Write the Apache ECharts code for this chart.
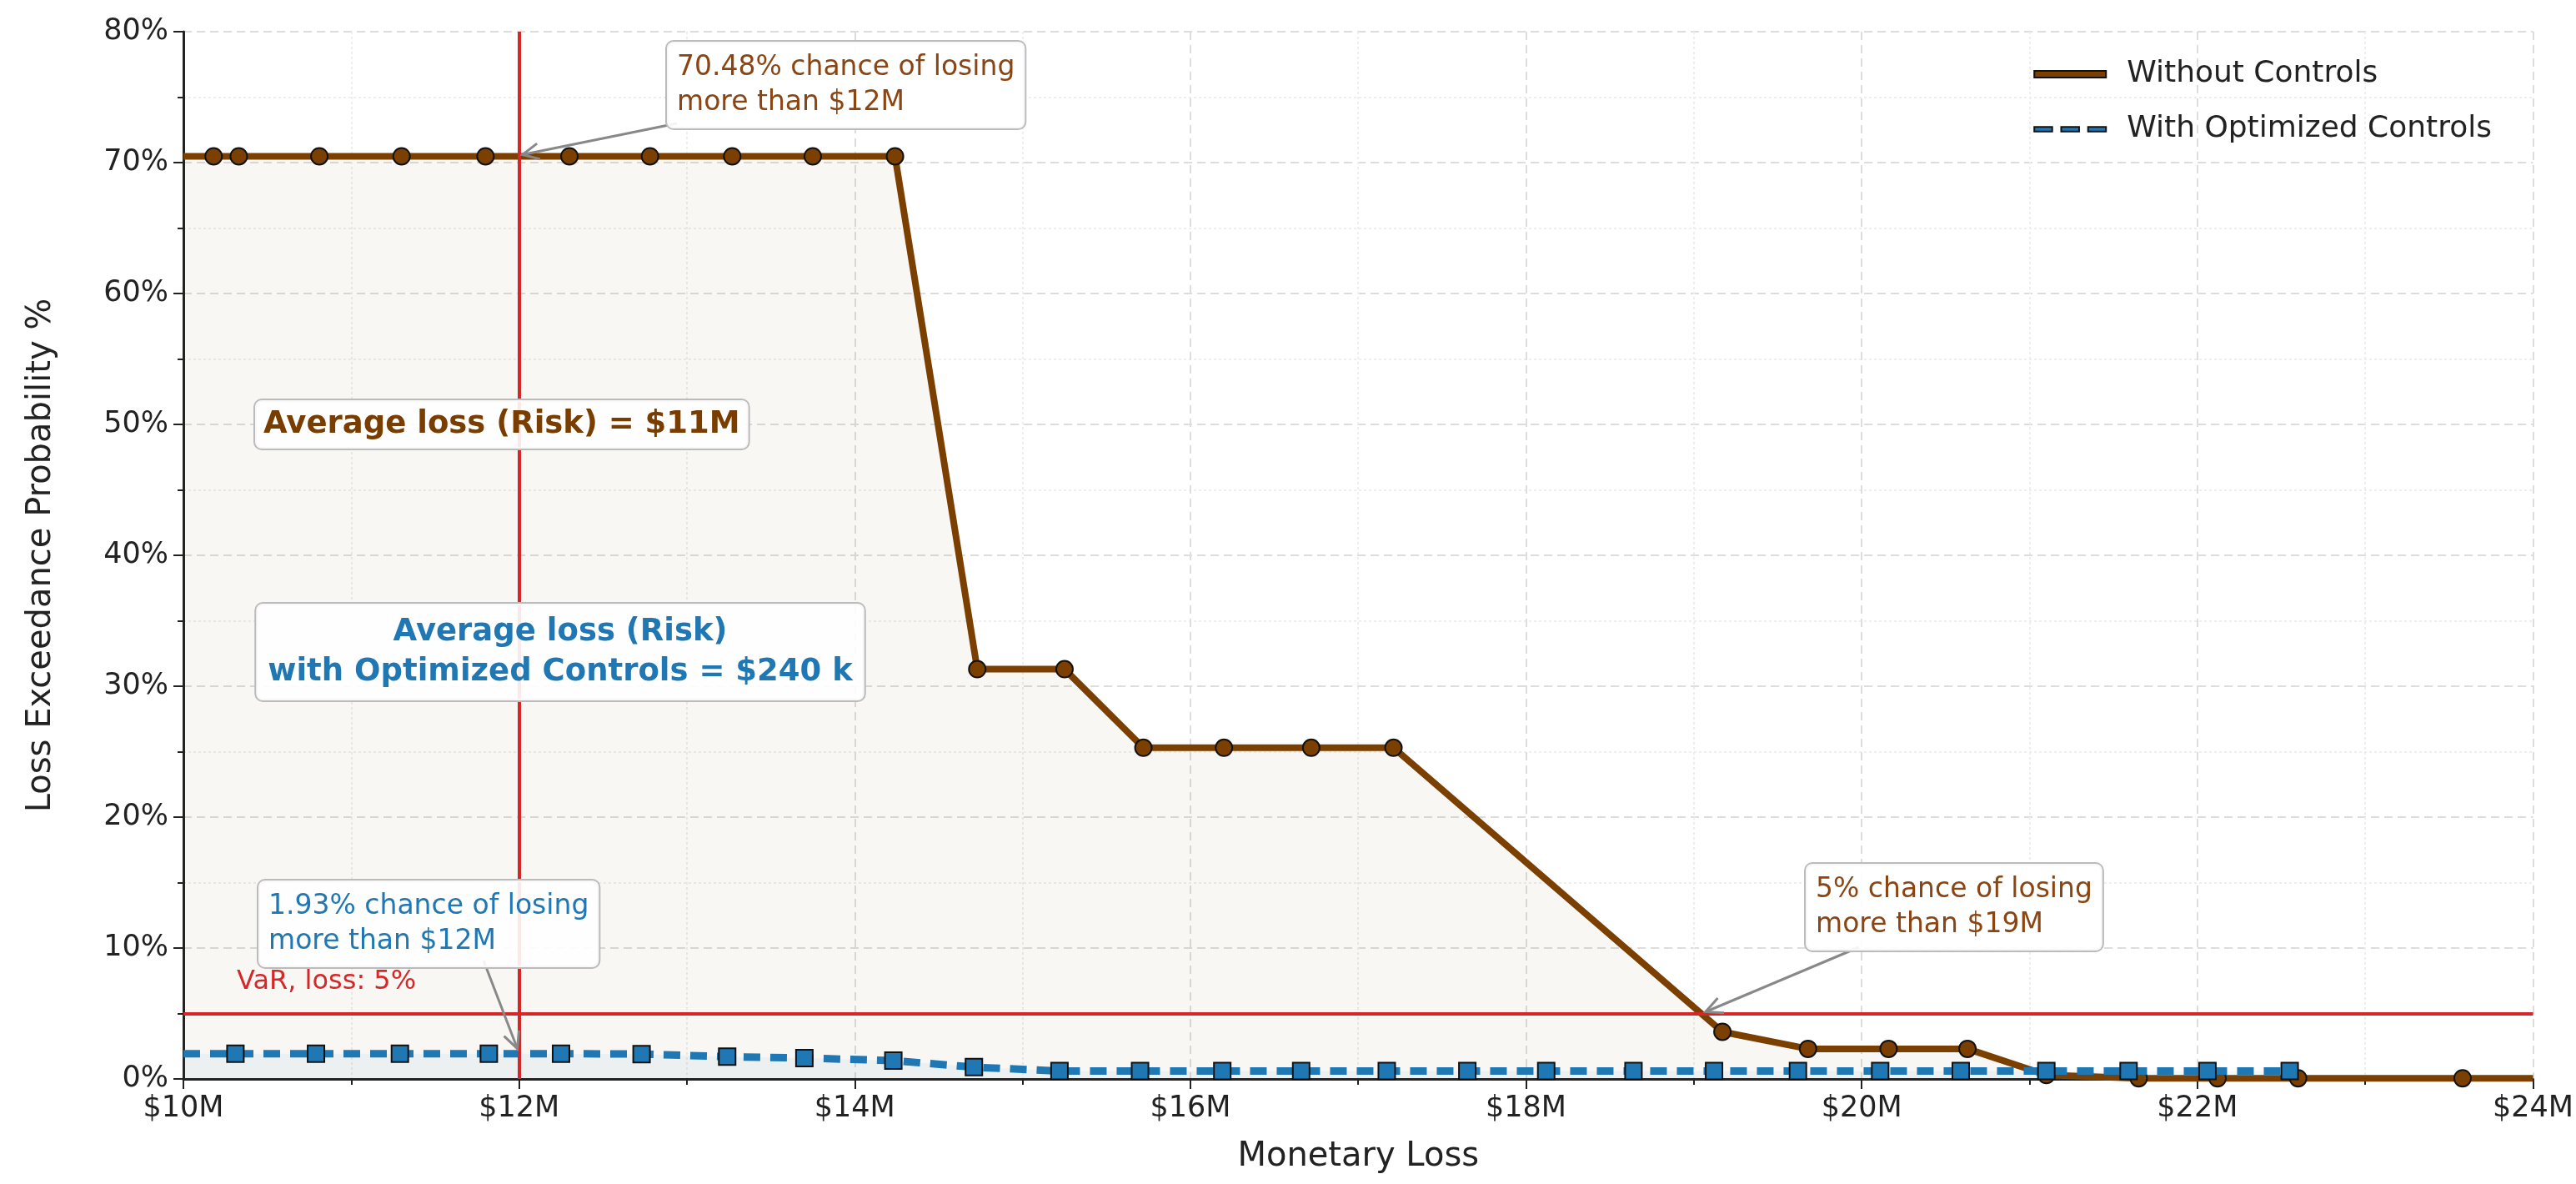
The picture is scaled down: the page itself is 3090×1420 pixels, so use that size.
<!DOCTYPE html>
<html><head><meta charset="utf-8">
<script src="https://cdn.jsdelivr.net/npm/echarts@6/dist/echarts.min.js"></script>
<style>html,body{margin:0;background:#fff}#c{width:3090px;height:1420px}</style>
</head><body><div id="c"></div>
<script>
const lossNoCtrl = [10, 10.18, 10.33, 10.81, 11.3, 11.8, 12.3, 12.78, 13.27, 13.75, 14.24, 14.73, 15.25, 15.72, 16.2, 16.72, 17.21, 19.17, 19.68, 20.16, 20.63, 21.1, 21.65, 22.12, 22.6, 23.58, 24];
const probNoCtrl = [70.48, 70.48, 70.48, 70.48, 70.48, 70.48, 70.48, 70.48, 70.48, 70.48, 70.48, 31.3, 31.3, 25.3, 25.3, 25.3, 25.3, 3.6, 2.3, 2.3, 2.3, 0.3, 0.05, 0.05, 0.05, 0.05, 0.05];
const lossCtrl = [10, 10.31, 10.79, 11.29, 11.82, 12.25, 12.73, 13.24, 13.7, 14.23, 14.71, 15.22, 15.7, 16.19, 16.66, 17.17, 17.65, 18.12, 18.64, 19.12, 19.62, 20.11, 20.59, 21.1, 21.59, 22.06, 22.55];
const probCtrl = [1.93, 1.93, 1.93, 1.93, 1.93, 1.93, 1.9, 1.7, 1.6, 1.4, 0.9, 0.6, 0.6, 0.6, 0.6, 0.6, 0.6, 0.6, 0.6, 0.6, 0.6, 0.6, 0.6, 0.6, 0.6, 0.6, 0.6];
const xTicks = [10, 12, 14, 16, 18, 20, 22, 24];
const yTicks = [0, 10, 20, 30, 40, 50, 60, 70, 80];

const BROWN = '#7b3f00', BLUE = '#1f77b4', RED = '#d62728', TXT_BROWN = '#8b4513';
const FONT = 'DejaVu Sans';

function pts(xs, ys, skipEnds) {
  return xs.map((x, i) => {
    const hide = (i === 0) || (skipEnds && i === xs.length - 1);
    return hide ? { value: [x, ys[i]], symbol: 'none' } : [x, ys[i]];
  });
}

const chart = echarts.init(document.getElementById('c'));
const gridDash = { color: '#dddddd', width: 2, type: [10, 6] };
const minorDot = { color: '#eeeeee', width: 2, type: [3, 3] };

chart.setOption({
  animation: false,
  textStyle: { fontFamily: FONT },
  grid: { left: 220, right: 20, top: 38, bottom: 126 },
  legend: {
    right: 96, top: 66, orient: 'vertical', itemGap: 30, itemWidth: 86, itemHeight: 8,
    textStyle: { fontFamily: FONT, fontSize: 36, color: '#222', padding: [0, 0, 0, 20] },
    data: [
      { name: 'Without Controls', icon: 'rect', itemStyle: { color: BROWN } },
      { name: 'With Optimized Controls', icon: 'path://M0,0h8v2h-8z M12,0h8v2h-8z M24,0h8v2h-8z', itemStyle: { color: BLUE } }
    ]
  },
  xAxis: {
    type: 'value', min: 10, max: 24, interval: 2,
    name: 'Monetary Loss', nameLocation: 'middle', nameGap: 74,
    nameTextStyle: { fontFamily: FONT, fontSize: 40, color: '#222' },
    axisLine: { lineStyle: { color: '#222', width: 3 } },
    axisTick: { show: true, length: 12, lineStyle: { color: '#222', width: 2 } },
    minorTick: { show: true, splitNumber: 2, length: 7, lineStyle: { color: '#222', width: 2 } },
    axisLabel: { fontSize: 35, color: '#222', margin: 18, formatter: v => xTicks.includes(v) ? '$' + v + 'M' : '' },
    splitLine: { show: true, lineStyle: gridDash },
    minorSplitLine: { show: true, lineStyle: minorDot }
  },
  yAxis: {
    type: 'value', min: 0, max: 80, interval: 10,
    name: 'Loss Exceedance Probability %', nameLocation: 'middle', nameGap: 150,
    nameTextStyle: { fontFamily: FONT, fontSize: 40, color: '#222' },
    axisLine: { show: true, lineStyle: { color: '#222', width: 3 } },
    axisTick: { show: true, length: 12, lineStyle: { color: '#222', width: 2 } },
    minorTick: { show: true, splitNumber: 2, length: 7, lineStyle: { color: '#222', width: 2 } },
    axisLabel: { fontSize: 35, color: '#222', margin: 18, formatter: v => yTicks.includes(v) ? v + '%' : '' },
    splitLine: { show: true, lineStyle: gridDash },
    minorSplitLine: { show: true, lineStyle: minorDot }
  },
  series: [
    {
      name: 'Without Controls', type: 'line', z: 3,
      data: pts(lossNoCtrl, probNoCtrl, true),
      symbol: 'circle', symbolSize: 20,
      itemStyle: { color: BROWN, borderColor: '#111', borderWidth: 2 },
      lineStyle: { color: BROWN, width: 8 },
      areaStyle: { color: 'rgba(123,63,0,0.06)' },
      markLine: {
        silent: true, symbol: 'none', label: { show: false },
        lineStyle: { color: RED, width: 4, type: 'solid' },
        data: [{ xAxis: 12 }, { yAxis: 5 }]
      }
    },
    {
      name: 'With Optimized Controls', type: 'line', z: 4,
      data: pts(lossCtrl, probCtrl, false),
      symbol: 'rect', symbolSize: 20,
      itemStyle: { color: BLUE, borderColor: '#111', borderWidth: 2 },
      lineStyle: { color: BLUE, width: 9, type: [20, 12] },
      areaStyle: { color: 'rgba(31,119,180,0.08)' }
    }
  ]
});

const px = (x, y) => chart.convertToPixel({ gridIndex: 0 }, [x, y]);
function box(x, y, text, color, opts = {}) {
  return {
    type: 'text', x, y, z: 100,
    style: Object.assign({
      text, fill: color, font: (opts.bold ? 'bold ' : '') + (opts.size || 33) + 'px ' + FONT,
      backgroundColor: 'rgba(255,255,255,0.9)', borderColor: '#bbbbbb', borderWidth: 2, borderRadius: 8,
      padding: [10, 12], lineHeight: opts.lh || 42, align: opts.align || 'left'
    }, opts.extra || {})
  };
}
function arrow(from, to) {
  const ang = Math.atan2(to[1] - from[1], to[0] - from[0]);
  const h = 22, w = 0.45;
  return [
    { type: 'line', z: 99, shape: { x1: from[0], y1: from[1], x2: to[0], y2: to[1] }, style: { stroke: '#888', lineWidth: 3 } },
    { type: 'polyline', z: 99, shape: { points: [
      [to[0] - h * Math.cos(ang - w), to[1] - h * Math.sin(ang - w)], to,
      [to[0] - h * Math.cos(ang + w), to[1] - h * Math.sin(ang + w)]] }, style: { stroke: '#888', lineWidth: 3, fill: null } }
  ];
}

const a1 = px(12, 70.48), a2 = px(12, 1.93), a3 = px(19.05, 5);
chart.setOption({
  graphic: [
    box(800, 50, '70.48% chance of losing\nmore than $12M', TXT_BROWN),
    ...arrow([812, 148], [a1[0] + 4, a1[1] - 2]),
    box(306, 480, 'Average loss (Risk) = $11M', '#7a3d00', { bold: true, size: 37, extra: { padding: [8, 10] } }),
    box(672, 724, 'Average loss (Risk)\nwith Optimized Controls = $240 k', BLUE, { bold: true, size: 37, lh: 48, align: 'center', extra: { padding: [10, 14] } }),
    box(310, 1056, '1.93% chance of losing\nmore than $12M', BLUE),
    ...arrow([580, 1152], [a2[0] - 2, a2[1] - 6]),
    box(2166, 1036, '5% chance of losing\nmore than $19M', TXT_BROWN),
    ...arrow([2230, 1136], [a3[0] + 4, a3[1] - 2]),
    { type: 'text', x: 284, y: 1162, z: 100, style: { text: 'VaR, loss: 5%', fill: RED, font: '32px ' + FONT } }
  ]
});
</script></body></html>
